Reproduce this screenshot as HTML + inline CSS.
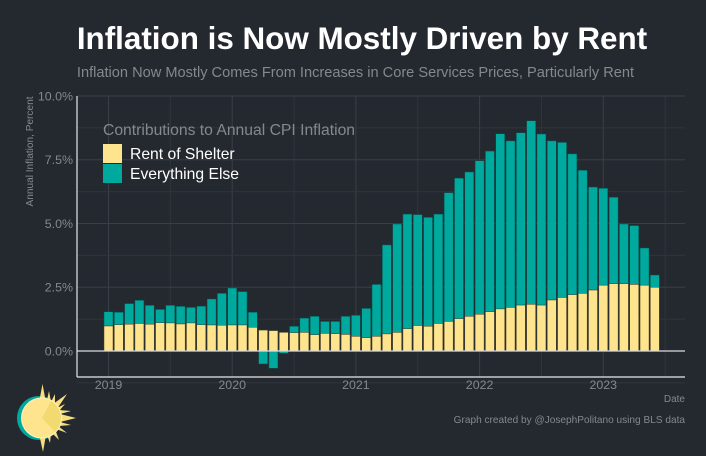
<!DOCTYPE html>
<html lang="en">
<head>
<meta charset="utf-8">
<title>Inflation is Now Mostly Driven by Rent</title>
<style>
html,body{margin:0;padding:0;background:#242930;}
body{width:706px;height:456px;overflow:hidden;}
svg{display:block;font-family:"Liberation Sans",Arial,sans-serif;}
</style>
</head>
<body>
<svg id="chart" width="706" height="456" viewBox="0 0 706 456" xmlns="http://www.w3.org/2000/svg">
  <rect x="0" y="0" width="706" height="456" fill="#242930"/>
  <text x="362" y="49" text-anchor="middle" font-size="31.4" font-weight="700" fill="#ffffff">Inflation is Now Mostly Driven by Rent</text>
  <text x="355.5" y="77" text-anchor="middle" font-size="14.6" fill="#85888d">Inflation Now Mostly Comes From Increases in Core Services Prices, Particularly Rent</text>
  <g id="grid"></g>
  <g id="bars"></g>
  <g id="axes"></g>
  <text transform="translate(33,151.5) rotate(-90)" text-anchor="middle" font-size="10.1" fill="#85888d">Annual Inflation, Percent</text>
  <text x="685" y="402" text-anchor="end" font-size="10" fill="#85888d">Date</text>
  <g>
    <text x="103" y="135" font-size="15.7" fill="#85888d">Contributions to Annual CPI Inflation</text>
    <rect x="103" y="144" width="19" height="19" fill="#fee48c"/>
    <rect x="103" y="164" width="19" height="19" fill="#00a99d"/>
    <text x="130" y="159" font-size="15.7" fill="#ffffff">Rent of Shelter</text>
    <text x="130" y="179" font-size="15.7" fill="#ffffff">Everything Else</text>
  </g>
  <g>
    <circle cx="39" cy="418" r="22" fill="#00a99d"/>
    <polygon fill="#f7df80" points="39.5,400 42.5,384 45.5,400"/>
    <polygon fill="#f7df80" points="47,400 49,391 51,402"/>
    <polygon fill="#f7df80" points="51,402 55,394 55,405"/>
    <polygon fill="#f7df80" points="53,404 67,394 57,409"/>
    <polygon fill="#f7df80" points="57,408 65,404 59,411"/>
    <polygon fill="#f7df80" points="59,410 71,411 60,414"/>
    <polygon fill="#f7df80" points="60,414 76,418 60,422"/>
    <polygon fill="#f7df80" points="60,422 71,425 59,426"/>
    <polygon fill="#f7df80" points="58,426 67,433 56,429"/>
    <polygon fill="#f7df80" points="55,429 59,440 52,433"/>
    <polygon fill="#f7df80" points="51,433 50,443 47,435"/>
    <polygon fill="#f7df80" points="46,435 43,452 39.5,436"/>
    <circle cx="41.5" cy="418" r="20.5" fill="#fff3c0"/>
    <circle cx="41.5" cy="418" r="19.5" fill="#fee48c"/>
    <path d="M42 418 L51 401 A19.5 19.5 0 0 1 55 432 Z" fill="#f2da70"/>
  </g>
  <text x="685" y="423" text-anchor="end" font-size="10.1" fill="#85888d">Graph created by @JosephPolitano using BLS data</text>
</svg>
<script>
const years = [2019, 2020, 2021, 2022, 2023];
const yTickValues = [0, 2.5, 5, 7.5, 10];
const yTickLabels = ["0.0%", "2.5%", "5.0%", "7.5%", "10.0%"];
const rentOfShelter = [
  0.98,1.03,1.05,1.08,1.05,1.11,1.10,1.06,1.10,1.03,1.02,1.01,
  1.02,1.02,0.93,0.82,0.80,0.73,0.72,0.73,0.64,0.69,0.68,0.65,
  0.575,0.52,0.575,0.67,0.73,0.875,1.00,0.97,1.08,1.16,1.27,1.36,
  1.44,1.54,1.65,1.71,1.80,1.83,1.80,2.00,2.10,2.21,2.26,2.39,
  2.58,2.64,2.64,2.61,2.58,2.50
];
const everythingElse = [
  0.56,0.49,0.81,0.91,0.74,0.52,0.69,0.69,0.61,0.73,1.02,1.25,
  1.45,1.31,0.59,-0.51,-0.68,-0.09,0.25,0.56,0.72,0.47,0.48,0.71,
  0.825,1.15,2.035,3.49,4.25,4.495,4.35,4.27,4.29,5.05,5.51,5.66,
  6.02,6.30,6.87,6.53,6.76,7.20,6.71,6.24,6.08,5.52,4.83,4.04,
  3.80,3.39,2.34,2.31,1.46,0.48
];

const NS = "http://www.w3.org/2000/svg";
const plotLeft = 77, plotRight = 685, plotBottom = 377;
function xScale(monthIndex) { return 108.5 + monthIndex * (123.7 / 12); }
function yScale(value) { return 351 - value * 25.5; }
function make(tag, attrs, parent) {
  const el = document.createElementNS(NS, tag);
  for (const k in attrs) el.setAttribute(k, attrs[k]);
  parent.appendChild(el);
  return el;
}
const grid = document.getElementById("grid");
const bars = document.getElementById("bars");
const axes = document.getElementById("axes");

years.forEach(function (year, i) {
  const x = xScale(i * 12);
  const major = make("line", {x1: x, x2: x, y1: 96, y2: plotBottom, stroke: "#3a3f47", "stroke-width": 1}, grid);
  
  
  const mx = xScale(i * 12 + 6);
  const minor = make("line", {x1: mx, x2: mx, y1: 96, y2: plotBottom, stroke: "#30353d", "stroke-width": 1}, grid);
  
  
  const label = make("text", {x: x, y: 389, "text-anchor": "middle", "font-size": 12.4, fill: "#85888d"}, axes);
  label.textContent = year;
  
  
});

yTickValues.forEach(function (value, i) {
  const y = yScale(value);
  const major = make("line", {x1: plotLeft, x2: plotRight, y1: y, y2: y, stroke: "#3a3f47", "stroke-width": 1}, grid);
  
  
  const minorY = yScale(value - 1.25);
  const minor = make("line", {x1: plotLeft, x2: plotRight, y1: minorY, y2: minorY, stroke: "#30353d", "stroke-width": 1}, grid);
  
  
  const label = make("text", {x: 73, y: y + 4.3, "text-anchor": "end", "font-size": 12.4, fill: "#85888d"}, axes);
  label.textContent = yTickLabels[i];
  
  
});

const barWidth = 9;
rentOfShelter.forEach(function (rent, i) {
  const x = xScale(i) - barWidth / 2;
  const other = everythingElse[i];
  const otherBase = other >= 0 ? rent : 0;
  const otherTop = yScale(otherBase + Math.max(other, 0));
  const otherBottom = yScale(otherBase + Math.min(other, 0));
  const otherBar = make("rect", {x: x, y: otherTop, width: barWidth, height: otherBottom - otherTop, fill: "#00a99d", stroke: "#0b4f4d", "stroke-width": 0.5}, bars);
  
  
  const rentBar = make("rect", {x: x, y: yScale(rent), width: barWidth, height: yScale(0) - yScale(rent), fill: "#fee48c", stroke: "#4a4430", "stroke-width": 0.5}, bars);
  
  
});

const zeroLine = make("line", {x1: plotLeft, x2: plotRight, y1: yScale(0), y2: yScale(0), stroke: "#d9dade", "stroke-width": 1.2}, axes);


const xAxis = make("line", {x1: plotLeft, x2: plotRight, y1: plotBottom, y2: plotBottom, stroke: "#e6e7ea", "stroke-width": 1.2}, axes);


const yAxis = make("line", {x1: plotLeft, x2: plotLeft, y1: 96, y2: plotBottom, stroke: "#e6e7ea", "stroke-width": 1.2}, axes);


</script>
</body>
</html>
